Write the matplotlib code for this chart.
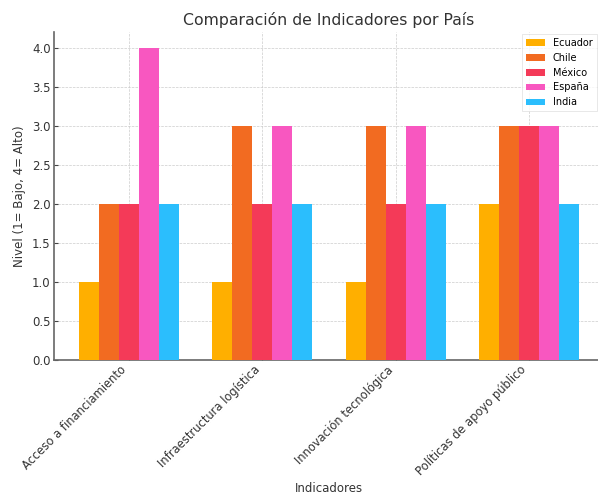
import numpy as np
import matplotlib.pyplot as plt

indicadores = ['Acceso a financiamiento', 'Infraestructura logística',
               'Innovación tecnológica', 'Políticas de apoyo público']
paises = ['Ecuador', 'Chile', 'México', 'España', 'India']
ecuador = [1, 1, 1, 2]
chile = [2, 3, 3, 3]
mexico = [2, 2, 2, 3]
espana = [4, 3, 3, 3]
india = [2, 2, 2, 2]
colores = ['#FFAF00', '#F26B21', '#F43A58', '#F857C0', '#2BBEFD']

series = [ecuador, chile, mexico, espana, india]
x = np.arange(len(indicadores))
width = 0.15

fig = plt.figure(figsize=(5.98, 4.95), dpi=100)
ax = fig.add_axes([0.0903, 0.2727, 0.92, 0.6618])

for i, (nombre, vals) in enumerate(zip(paises, series)):
    ax.bar(x + (i - 2) * width, vals, width, label=nombre, color=colores[i], zorder=3)

ax.set_xticks(x)
ax.set_xticklabels(indicadores, rotation=45, ha='right', fontsize=8.3, color='#333333')
ax.tick_params(axis='y', labelsize=8.5, labelcolor='#333333', pad=2.5)
ax.tick_params(axis='x', pad=2.5)
ax.tick_params(direction='in', length=3, color='#444444')
ax.set_ylim(0, 4.2)
ax.set_yticks(np.arange(0, 4.01, 0.5))

ax.set_title('Comparación de Indicadores por País', fontsize=11.3, color='#333333', pad=5)
ax.set_xlabel('Indicadores', fontsize=8.5, color='#333333')
ax.xaxis.set_label_coords(0.5, -0.372)
ax.set_ylabel('Nivel (1= Bajo, 4= Alto)', fontsize=8.5, color='#333333')

ax.grid(True, linestyle='--', linewidth=0.5, color='#CCCCCC', zorder=0)
for s in ['top', 'right']:
    ax.spines[s].set_visible(False)
for s in ['left', 'bottom']:
    ax.spines[s].set_color('#666666')
    ax.spines[s].set_linewidth(1.2)

leg = ax.legend(loc='upper right', fontsize=7, frameon=True, fancybox=False,
                bbox_to_anchor=(0.995, 1.01))
leg.get_frame().set_edgecolor('#DDDDDD')
leg.get_frame().set_linewidth(0.6)

fig.savefig('out.png', dpi=100)
